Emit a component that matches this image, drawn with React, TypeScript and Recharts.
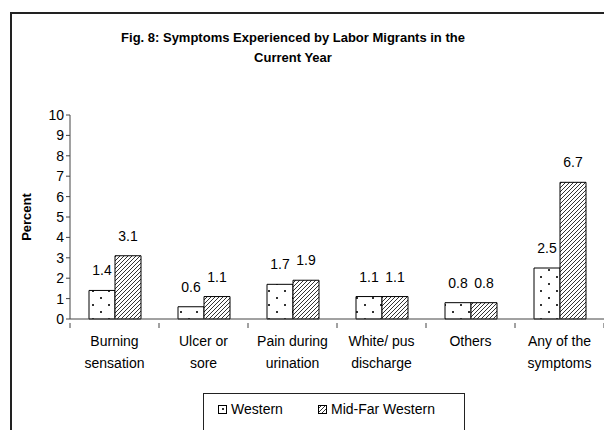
import React from "react"
import { Bar, BarChart, LabelList, XAxis, YAxis } from "recharts"

// categories (line breaks as in the original axis labels)
const categories = [
  "Burning\nsensation",
  "Ulcer or\nsore",
  "Pain during\nurination",
  "White/ pus\ndischarge",
  "Others",
  "Any of the\nsymptoms",
]
const western = [1.4, 0.6, 1.7, 1.1, 0.8, 2.5]
const midFarWestern = [3.1, 1.1, 1.9, 1.1, 0.8, 6.7]
const yTicks = [0, 1, 2, 3, 4, 5, 6, 7, 8, 9, 10]

const data = categories.map((name, i) => ({
  name,
  western: western[i],
  midFar: midFarWestern[i],
}))

const FONT = "'Liberation Sans', Arial, sans-serif"
const BAND = 89

const CategoryTick = (props: any) => {
  const { x, y, payload, index } = props
  const lines = String(payload.value).split("\n")
  const left = x - BAND / 2
  return (
    <g>
      <line x1={left} y1={y - 4} x2={left} y2={y + 1} stroke="#444" />
      {index === categories.length - 1 && (
        <line x1={left + BAND} y1={y - 4} x2={left + BAND} y2={y + 1} stroke="#444" />
      )}
      <text x={x} y={y} textAnchor="middle" fontFamily={FONT} fontSize={14} fill="#000">
        {lines.map((l, i) => (
          <tspan key={i} x={x} dy={i === 0 ? 19 : 21.5}>
            {l}
          </tspan>
        ))}
      </text>
    </g>
  )
}

export default function App() {
  return (
    <div style={{ position: "absolute", left: 0, top: 0, width: 604, height: 430, background: "#fff", overflow: "hidden" }}>
      <svg width={0} height={0} style={{ position: "absolute" }}>
        <defs>
          <pattern id="dots" width={16} height={14} patternUnits="userSpaceOnUse">
            <rect width={16} height={14} fill="#fff" />
            <rect x={4} y={3} width={2} height={2} fill="#333" />
            <rect x={12} y={10} width={2} height={2} fill="#333" />
          </pattern>
          <pattern id="hatch" width={4} height={4} patternUnits="userSpaceOnUse">
            <rect width={4} height={4} fill="#fff" />
            <path d="M-1,1 l2,-2 M0,4 l4,-4 M3,5 l2,-2" stroke="#333" strokeWidth={1} />
          </pattern>
        </defs>
      </svg>

      {/* chart area border */}
      <div style={{ position: "absolute", left: 10, top: 12, width: 620, height: 450, border: "2px solid #222", boxSizing: "border-box" }} />

      <div
        style={{
          position: "absolute",
          left: 80,
          top: 28,
          width: 426,
          textAlign: "center",
          fontFamily: FONT,
          fontWeight: "bold",
          fontSize: 13,
          lineHeight: "20px",
        }}
      >
        Fig. 8: Symptoms Experienced by Labor Migrants in the
        <br />
        Current Year
      </div>

      <div style={{ position: "absolute", left: 0, top: 0 }}>
        <BarChart
          width={604}
          height={430}
          data={data}
          margin={{ top: 115, right: 0, bottom: 51, left: 0 }}
          barSize={26}
          barGap={0}
        >
          <XAxis
            dataKey="name"
            height={60}
            interval={0}
            tickLine={false}
            axisLine={{ stroke: "#444" }}
            tick={<CategoryTick />}
          />
          <YAxis
            width={70}
            domain={[0, 10]}
            ticks={yTicks}
            interval={0}
            tickSize={4}
            tickMargin={2}
            axisLine={{ stroke: "#444" }}
            tickLine={{ stroke: "#444" }}
            tick={{ fontFamily: FONT, fontSize: 14, fill: "#000" }}
            label={{
              value: "Percent",
              angle: -90,
              position: "insideLeft",
              offset: 26,
              style: { fontFamily: FONT, fontSize: 13, fontWeight: "bold", fill: "#000", textAnchor: "middle" },
            }}
          />
          <Bar dataKey="western" fill="url(#dots)" stroke="#000" strokeWidth={1} isAnimationActive={false}>
            <LabelList dataKey="western" position="top" offset={15} style={{ fontFamily: FONT, fontSize: 14, fill: "#000" }} />
          </Bar>
          <Bar dataKey="midFar" fill="url(#hatch)" stroke="#000" strokeWidth={1} isAnimationActive={false}>
            <LabelList dataKey="midFar" position="top" offset={15} style={{ fontFamily: FONT, fontSize: 14, fill: "#000" }} />
          </Bar>
        </BarChart>
      </div>

      {/* legend */}
      <div
        style={{
          position: "absolute",
          left: 203,
          top: 393,
          width: 262,
          height: 60,
          border: "1px solid #222",
          boxSizing: "border-box",
          fontFamily: FONT,
          fontSize: 14,
        }}
      >
        <div style={{ position: "absolute", left: 14, top: 7, display: "flex", alignItems: "center" }}>
          <svg width={9} height={9} style={{ marginRight: 4 }}>
            <rect x={0.5} y={0.5} width={8} height={8} fill="url(#dots)" stroke="#000" />
          </svg>
          Western
        </div>
        <div style={{ position: "absolute", left: 114, top: 7, display: "flex", alignItems: "center" }}>
          <svg width={9} height={9} style={{ marginRight: 4 }}>
            <rect x={0.5} y={0.5} width={8} height={8} fill="url(#hatch)" stroke="#000" />
          </svg>
          Mid-Far Western
        </div>
      </div>
    </div>
  )
}
